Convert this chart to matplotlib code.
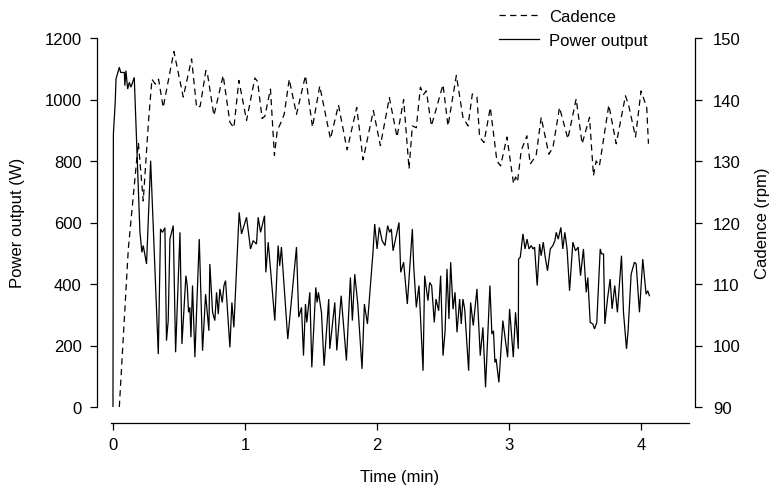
import matplotlib
matplotlib.use("Agg")
import matplotlib.pyplot as plt
from matplotlib.lines import Line2D

plt.rcParams['font.family'] = ['Liberation Sans', 'DejaVu Sans']
plt.rcParams['font.size'] = 12

# power output (W) vs time (min)
power_t = [0.0, 0.003, 0.017, 0.023, 0.048, 0.058, 0.086, 0.09, 0.098, 0.111, 0.124, 0.136, 0.161,
           0.204, 0.219, 0.229, 0.254, 0.285, 0.343, 0.360, 0.375, 0.393, 0.405, 0.418, 0.431,
           0.456, 0.474, 0.507, 0.522, 0.552, 0.562, 0.572, 0.582, 0.590, 0.602, 0.620, 0.653,
           0.678, 0.701, 0.726, 0.733, 0.754, 0.771, 0.784, 0.797, 0.809, 0.827, 0.840, 0.852,
           0.885, 0.900, 0.915, 0.955, 0.973, 1.011, 1.041, 1.061, 1.086, 1.099, 1.117, 1.147,
           1.157, 1.175, 1.225, 1.250, 1.262, 1.275, 1.323, 1.389, 1.406, 1.427, 1.442, 1.457,
           1.467, 1.490, 1.505, 1.535, 1.545, 1.555, 1.578, 1.598, 1.633, 1.641, 1.679, 1.694,
           1.727, 1.767, 1.797, 1.812, 1.830, 1.853, 1.885, 1.903, 1.926, 1.968, 1.981, 1.999,
           2.016, 2.037, 2.059, 2.079, 2.094, 2.107, 2.120, 2.165, 2.178, 2.200, 2.228, 2.266,
           2.276, 2.296, 2.316, 2.347, 2.359, 2.384, 2.397, 2.412, 2.432, 2.445, 2.465, 2.480,
           2.498, 2.514, 2.528, 2.543, 2.556, 2.574, 2.589, 2.604, 2.624, 2.636, 2.649, 2.662,
           2.692, 2.707, 2.727, 2.755, 2.780, 2.800, 2.820, 2.853, 2.868, 2.880, 2.891, 2.900,
           2.921, 2.951, 2.987, 3.002, 3.030, 3.047, 3.068, 3.070, 3.083, 3.103, 3.119, 3.134,
           3.149, 3.166, 3.179, 3.191, 3.211, 3.229, 3.241, 3.257, 3.270, 3.289, 3.310, 3.330,
           3.345, 3.355, 3.370, 3.390, 3.405, 3.420, 3.437, 3.456, 3.481, 3.501, 3.521, 3.539,
           3.561, 3.582, 3.594, 3.612, 3.632, 3.645, 3.662, 3.688, 3.698, 3.713, 3.723, 3.743,
           3.763, 3.778, 3.798, 3.818, 3.849, 3.864, 3.887, 3.899, 3.922, 3.947, 3.960, 3.985,
           4.010, 4.035, 4.048, 4.060]
power_w = [0, 888, 991, 1067, 1105, 1088, 1088, 1045, 1094, 1034, 1056, 1040, 1072,
           569, 503, 525, 465, 801, 172, 579, 568, 583, 216, 281, 546,
           590, 178, 568, 205, 427, 395, 308, 324, 227, 395, 162, 546,
           183, 367, 248, 465, 308, 281, 373, 302, 384, 340, 395, 411,
           194, 340, 259, 633, 563, 617, 514, 541, 530, 617, 568, 622,
           438, 536, 281, 525, 459, 520, 221, 520, 292, 324, 167, 335,
           275, 373, 129, 389, 340, 373, 308, 134, 351, 189, 340, 184,
           362, 151, 421, 281, 432, 335, 124, 335, 270, 503, 595, 514,
           584, 541, 525, 590, 568, 579, 508, 600, 438, 471, 335, 579,
           459, 324, 395, 118, 427, 346, 405, 395, 275, 351, 313, 427,
           167, 248, 449, 286, 471, 318, 373, 243, 351, 270, 351, 319,
           118, 340, 265, 384, 167, 259, 64, 395, 237, 248, 145, 156,
           80, 281, 162, 319, 162, 308, 189, 481, 487, 563, 514, 546,
           514, 525, 514, 520, 395, 530, 492, 536, 492, 443, 514, 525,
           541, 568, 546, 584, 514, 568, 514, 378, 536, 508, 520, 427,
           514, 373, 421, 275, 270, 254, 275, 514, 498, 498, 270, 351,
           416, 319, 395, 308, 492, 308, 189, 248, 432, 471, 465, 308,
           481, 367, 378, 362]

# cadence (rpm) vs time (min)
cad_t = [0.048, 0.116, 0.192, 0.229, 0.270, 0.295, 0.320, 0.345, 0.380, 0.461, 0.532, 0.595,
         0.633, 0.660, 0.703, 0.715, 0.764, 0.834, 0.885, 0.915, 0.953, 1.011, 1.074, 1.095,
         1.129, 1.150, 1.192, 1.222, 1.243, 1.270, 1.296, 1.334, 1.389, 1.457, 1.510, 1.565,
         1.646, 1.707, 1.772, 1.845, 1.893, 1.971, 2.024, 2.092, 2.150, 2.200, 2.241, 2.266,
         2.296, 2.327, 2.350, 2.372, 2.410, 2.498, 2.536, 2.599, 2.649, 2.687, 2.720, 2.755,
         2.775, 2.808, 2.856, 2.906, 2.934, 2.982, 3.032, 3.047, 3.062, 3.090, 3.133, 3.158,
         3.203, 3.241, 3.299, 3.330, 3.380, 3.443, 3.506, 3.551, 3.607, 3.637, 3.657, 3.682,
         3.753, 3.809, 3.879, 3.904, 3.955, 3.997, 4.040, 4.053]
cad_rpm = [90.0, 115.7, 133.0, 123.5, 136.8, 143.3, 142.5, 143.3, 138.7, 147.8, 140.4, 146.6,
           138.7, 138.9, 144.7, 144.2, 137.4, 143.9, 136.3, 135.4, 143.1, 136.6, 143.5, 142.9,
           136.9, 137.3, 141.7, 130.9, 134.9, 136.2, 137.6, 143.3, 137.6, 143.9, 135.5, 142.2,
           133.6, 139.1, 131.8, 138.7, 130.2, 138.2, 132.5, 140.3, 133.9, 140.0, 128.7, 135.7,
           135.4, 142.0, 140.8, 141.4, 135.7, 142.4, 135.7, 143.9, 137.1, 135.7, 140.9, 140.4,
           133.9, 133.0, 138.7, 130.0, 129.2, 133.9, 126.3, 127.4, 126.6, 131.7, 134.1, 129.5,
           130.9, 137.1, 131.1, 132.2, 138.7, 133.6, 140.1, 132.8, 137.1, 127.6, 130.0, 129.2,
           139.1, 132.8, 140.6, 139.0, 133.9, 141.4, 138.7, 132.8]

W, H = 775, 489
fig = plt.figure(figsize=(W / 100, H / 100), dpi=100)
ax = fig.add_axes([111 / W, 1 - 408 / H, (689 - 111) / W, (408 - 39) / H])
ax2 = ax.twinx()

lw = 0.9
dash = (0, (5, 3.5))
ax.plot(power_t, power_w, color="black", lw=lw, solid_joinstyle="miter")
ax2.plot(cad_t, cad_rpm, color="black", lw=lw, linestyle=dash)

ax.set_xlim(-0.015, 4.36)
ax.set_ylim(0, 1200)
ax2.set_ylim(90, 150)
ax.set_xticks([0, 1, 2, 3, 4])
ax.set_yticks([0, 200, 400, 600, 800, 1000, 1200])
ax2.set_yticks([90, 100, 110, 120, 130, 140, 150])

for a in (ax, ax2):
    a.spines["top"].set_visible(False)
    for s in a.spines.values():
        s.set_linewidth(0.9)
    a.patch.set_visible(False)
ax.spines["right"].set_visible(False)
ax2.spines["left"].set_visible(False)
ax2.spines["bottom"].set_visible(False)
ax.spines["left"].set_position(("outward", 10))
ax.spines["bottom"].set_position(("outward", 11.5))
ax2.spines["right"].set_position(("outward", 4.3))
ax.spines["left"].set_bounds(0, 1200)
ax2.spines["right"].set_bounds(90, 150)

ax.tick_params(axis="y", length=5, width=0.9, pad=6, labelsize=12)
ax.tick_params(axis="x", length=5, width=0.9, pad=5, labelsize=12)
ax2.tick_params(axis="y", length=5, width=0.9, pad=8, labelsize=12)

ax.set_xlabel("Time (min)", fontsize=12, labelpad=12)
fig.text(18 / W, 1 - 223 / H, "Power output (W)", rotation=90, ha="center", va="center", fontsize=12)
fig.text(763 / W, 1 - 223 / H, "Cadence (rpm)", rotation=90, ha="center", va="center", fontsize=12)

handles = [Line2D([], [], color="black", lw=lw, linestyle=dash),
           Line2D([], [], color="black", lw=lw)]
fig.legend(handles, ["Cadence", "Power output"], loc="upper left",
           bbox_to_anchor=(487 / W, 1 + 2 / H), frameon=False, fontsize=12,
           handlelength=2.4, handletextpad=0.6, labelspacing=0.55, borderpad=0.2)

fig.savefig("out.png", dpi=100)
